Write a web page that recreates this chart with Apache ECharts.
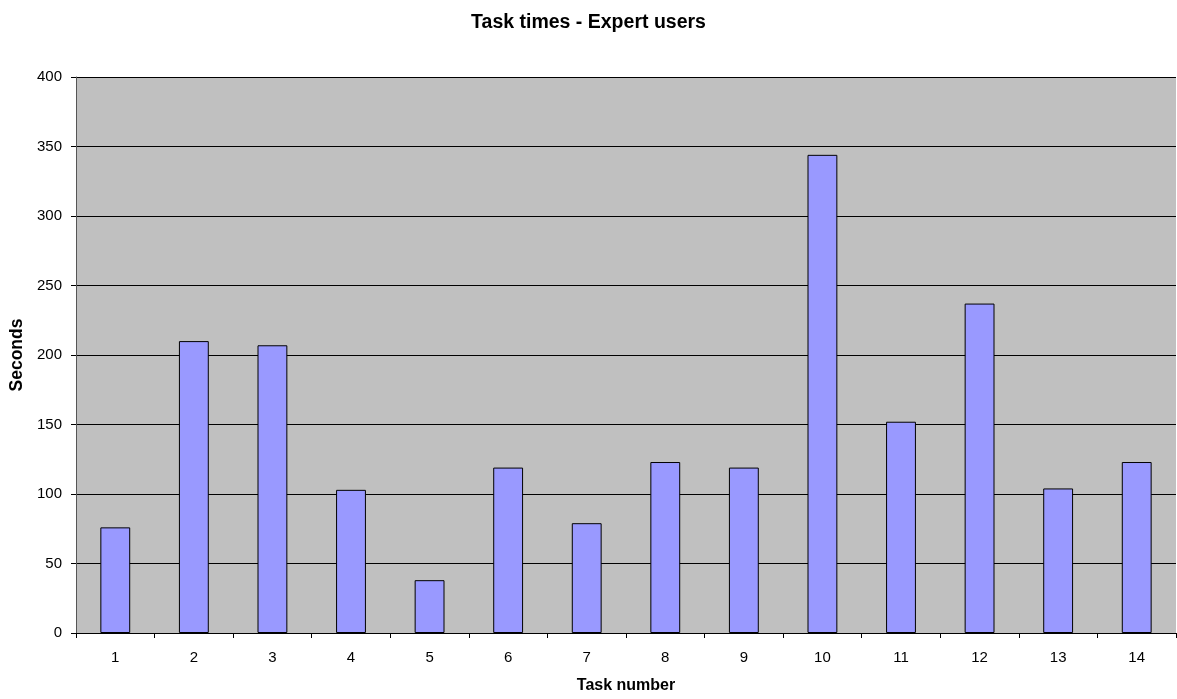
<!DOCTYPE html>
<html>
<head>
<meta charset="utf-8">
<script src="https://cdn.jsdelivr.net/npm/echarts@6/dist/echarts.min.js"></script>
<style>
  html, body { margin: 0; padding: 0; background: #ffffff; }
  #chart { width: 1177px; height: 699px; }
</style>
</head>
<body>
<div id="chart"></div>
<script>
// Task numbers and the time each one took expert users, in seconds
const tasks = ['1', '2', '3', '4', '5', '6', '7', '8', '9', '10', '11', '12', '13', '14'];
const seconds = [76, 210, 207, 103, 38, 119, 79, 123, 119, 344, 152, 237, 104, 123];

const chart = echarts.init(document.getElementById('chart'));
const font = 'Arial, "Liberation Sans", sans-serif';

chart.setOption({
  animation: false,
  backgroundColor: '#ffffff',
  title: {
    text: 'Task times - Expert users',
    left: 'center',
    top: 8,
    textStyle: { fontFamily: font, fontSize: 19.5, fontWeight: 'bold', color: '#000' }
  },
  grid: {
    left: 76, right: 1, top: 77, bottom: 63,
    show: true,
    backgroundColor: '#c0c0c0',
    borderWidth: 0
  },
  xAxis: {
    type: 'category',
    data: tasks,
    name: 'Task number',
    nameLocation: 'middle',
    nameGap: 45,
    nameTextStyle: { fontFamily: font, fontSize: 16, fontWeight: 'bold', color: '#000' },
    axisLine: { lineStyle: { color: '#000', width: 1 } },
    axisTick: { show: true, alignWithLabel: false, length: 5, lineStyle: { color: '#000' } },
    axisLabel: { fontFamily: font, fontSize: 15, color: '#000', margin: 17 },
    splitLine: { show: false }
  },
  yAxis: {
    type: 'value',
    min: 0, max: 400, interval: 50,
    name: 'Seconds',
    nameLocation: 'middle',
    nameGap: 45,
    nameRotate: 90,
    nameTextStyle: { fontFamily: font, fontSize: 17.5, fontWeight: 'bold', color: '#000' },
    axisLine: { show: true, lineStyle: { color: '#555', width: 1 } },
    axisTick: { show: true, length: 5, lineStyle: { color: '#000' } },
    axisLabel: { fontFamily: font, fontSize: 15, color: '#000', margin: 14 },
    splitLine: { show: true, lineStyle: { color: '#000', width: 1 } }
  },
  series: [{
    type: 'bar',
    data: seconds,
    barWidth: '38%',
    itemStyle: { color: '#9999ff', borderColor: '#000', borderWidth: 1 }
  }]
});
</script>
</body>
</html>
